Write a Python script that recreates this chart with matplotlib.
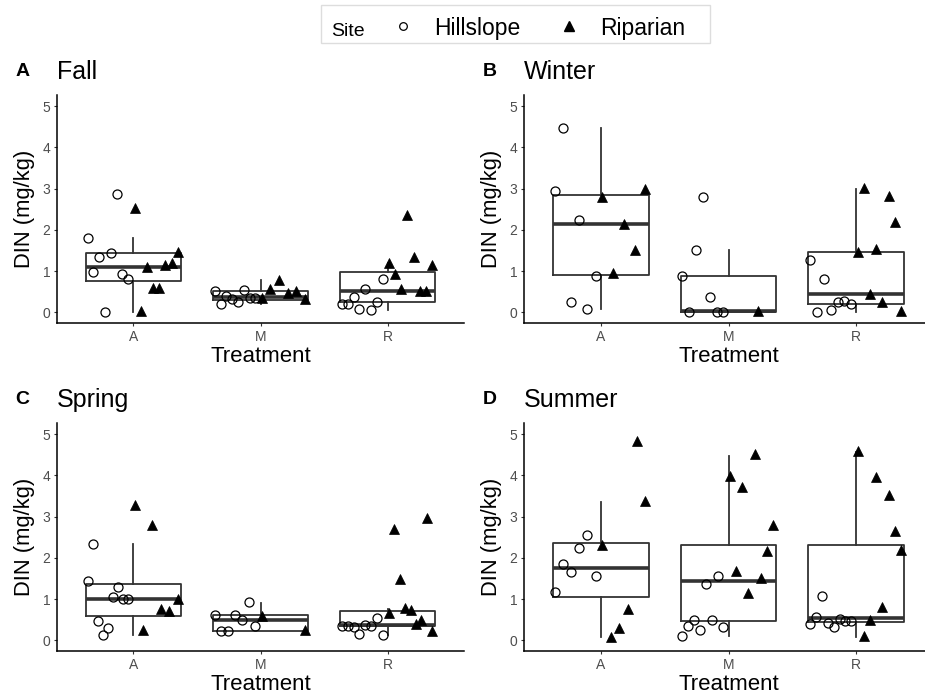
import numpy as np
import matplotlib
matplotlib.use("Agg")
import matplotlib.pyplot as plt
from matplotlib.lines import Line2D
from matplotlib.patches import Rectangle

plt.rcParams['font.family'] = ['Liberation Sans', 'DejaVu Sans']

treatments = ["A", "M", "R"]
seasons = ["Fall", "Winter", "Spring", "Summer"]
tags = ["A", "B", "C", "D"]

# DIN (mg/kg) per treatment, listed left to right as plotted
fall_hill = [[1.81, 0.98, 1.35, 0.0, 1.44, 2.87, 0.93, 0.80],
             [0.52, 0.19, 0.40, 0.31, 0.26, 0.54, 0.34, 0.34],
             [0.20, 0.20, 0.38, 0.07, 0.56, 0.05, 0.26, 0.81]]
fall_rip = [[2.52, 0.02, 1.10, 0.58, 0.60, 1.14, 1.20, 1.47],
            [0.34, 0.56, 0.78, 0.46, 0.51, 0.31],
            [1.19, 0.94, 0.57, 2.35, 1.35, 0.52, 0.52, 1.15]]

winter_hill = [[2.94, 4.48, 0.24, 2.23, 0.07, 0.89],
               [0.89, 0.0, 1.51, 2.80, 0.38, 0.0, 0.0],
               [1.28, 0.0, 0.80, 0.06, 0.26, 0.28, 0.19]]
winter_rip = [[2.80, 0.96, 2.15, 1.51, 2.98],
              [0.02],
              [1.45, 3.02, 0.44, 1.53, 0.24, 2.82, 2.18, 0.02]]

spring_hill = [[1.43, 2.34, 0.47, 0.12, 0.29, 1.05, 1.29, 0.99, 0.99],
               [0.62, 0.23, 0.23, 0.62, 0.48, 0.93, 0.34],
               [0.35, 0.35, 0.31, 0.16, 0.36, 0.34, 0.54, 0.12]]
spring_rip = [[3.27, 0.26, 2.80, 0.77, 0.71, 1.01],
              [0.58, 0.24],
              [0.65, 2.69, 1.49, 0.79, 0.73, 0.40, 0.50, 2.96, 0.23]]

summer_hill = [[1.16, 1.86, 1.66, 2.25, 2.55, 1.55],
               [0.10, 0.35, 0.49, 0.25, 1.36, 0.49, 1.57, 0.31],
               [0.39, 0.57, 1.07, 0.43, 0.31, 0.51, 0.47, 0.47]]
summer_rip = [[2.30, 0.09, 0.29, 0.77, 4.84, 3.39],
              [3.98, 1.67, 3.71, 1.14, 4.52, 1.51, 2.16, 2.80],
              [4.60, 0.10, 0.48, 3.95, 0.80, 3.53, 2.65, 2.20]]

# box stats per treatment: (q1, median, q3, lower whisker, upper whisker)
fall_box = [(0.76, 1.10, 1.44, 0.0, 1.81), (0.29, 0.38, 0.51, 0.19, 0.78),
            (0.25, 0.52, 0.98, 0.05, 1.19)]
winter_box = [(0.90, 2.13, 2.85, 0.07, 4.47), (0.0, 0.03, 0.89, 0.0, 1.51),
              (0.20, 0.44, 1.47, 0.0, 2.98)]
spring_box = [(0.58, 0.99, 1.37, 0.12, 2.34), (0.23, 0.50, 0.62, 0.23, 0.91),
              (0.34, 0.38, 0.71, 0.12, 0.77)]
summer_box = [(1.05, 1.76, 2.35, 0.09, 3.35), (0.46, 1.43, 2.30, 0.10, 4.48),
              (0.44, 0.53, 2.30, 0.08, 4.56)]

hill_all = [fall_hill, winter_hill, spring_hill, summer_hill]
rip_all = [fall_rip, winter_rip, spring_rip, summer_rip]
box_all = [fall_box, winter_box, spring_box, summer_box]

W, H = 925, 698
fig = plt.figure(figsize=(9.25, 6.98), dpi=100)

# panel rectangles in pixels: left, top, right, bottom
rects = [(57, 95, 464, 323), (524, 95, 933, 323),
         (57, 423, 464, 651), (524, 423, 933, 651)]

line_col = "#333333"

for k, (l, t, r, b) in enumerate(rects):
    ax = fig.add_axes([l / W, 1 - b / H, (r - l) / W, (b - t) / H])
    stats = []
    for q1, med, q3, lo, hi in box_all[k]:
        stats.append(dict(q1=q1, med=med, q3=q3, whislo=lo, whishi=hi, fliers=[]))
    ax.bxp(stats, positions=[1, 2, 3], widths=0.75, showcaps=False,
           showfliers=False,
           boxprops=dict(color=line_col, lw=1.3),
           whiskerprops=dict(color=line_col, lw=1.3),
           medianprops=dict(color=line_col, lw=2.6, solid_capstyle='butt'),
           zorder=2)

    for i in range(3):
        hv = np.array(hill_all[k][i])
        rv = np.array(rip_all[k][i])
        hx = i + 1 + (np.linspace(-0.36, -0.04, len(hv)) if len(hv) > 1 else np.array([-0.19]))
        rx = i + 1 + (np.linspace(0.01, 0.35, len(rv)) if len(rv) > 1 else np.array([0.23]))
        ax.plot(hx, hv, linestyle='none', marker='o', ms=6.5, mfc='none',
                mec='black', mew=0.9, zorder=3)
        ax.plot(rx, rv, linestyle='none', marker='^', ms=7.5, mfc='black',
                mec='black', mew=0.5, zorder=3)

    ax.set_xlim(0.4, 3.6)
    ax.set_ylim(-0.26, 5.27)
    ax.set_xticks([1, 2, 3])
    ax.set_xticklabels(treatments)
    ax.set_yticks(range(6))
    for s in ["top", "right"]:
        ax.spines[s].set_visible(False)
    for s in ["left", "bottom"]:
        ax.spines[s].set_color("black")
        ax.spines[s].set_linewidth(1.1)
    ax.tick_params(length=2.5, width=0.8, color=line_col, labelcolor="#4d4d4d",
                   labelsize=10, pad=2.2)
    ax.set_ylabel("DIN (mg/kg)", fontsize=15.8)
    ax.yaxis.set_label_coords(-0.055, 0.5)
    ax.set_xlabel("Treatment", fontsize=16)
    ax.xaxis.set_label_coords(0.5, -0.1)

    ax.annotate(seasons[k], xy=(0, 1), xycoords='axes fraction',
                xytext=(0, 11.5), textcoords='offset points',
                fontsize=18, ha='left', va='baseline')
    ax.annotate(tags[k], xy=(0, 1), xycoords='axes fraction',
                xytext=(-30, 13.5), textcoords='offset points',
                fontsize=14, fontweight='bold', ha='left', va='baseline')

# legend box across the top
fig.add_artist(Rectangle((321 / W, 1 - 43 / H), (710 - 321) / W, 38 / H,
                         transform=fig.transFigure, facecolor='white',
                         edgecolor='#dddddd', lw=1))
fig.text(331 / W, 1 - 36 / H, "Site", fontsize=14, ha='left', va='baseline')
handles = [Line2D([], [], linestyle='none', marker='o', ms=5.5, mfc='none',
                  mec='black', mew=0.9),
           Line2D([], [], linestyle='none', marker='^', ms=7, mfc='black',
                  mec='black')]
fig.legend(handles, ["Hillslope", "Riparian"], ncol=2, frameon=False,
           loc='center left', bbox_to_anchor=(392 / W, 1 - 28 / H),
           borderaxespad=0, borderpad=0, handlelength=1.0, handletextpad=0.85,
           columnspacing=1.6, fontsize=16.5)

fig.savefig("out.png", dpi=100)
